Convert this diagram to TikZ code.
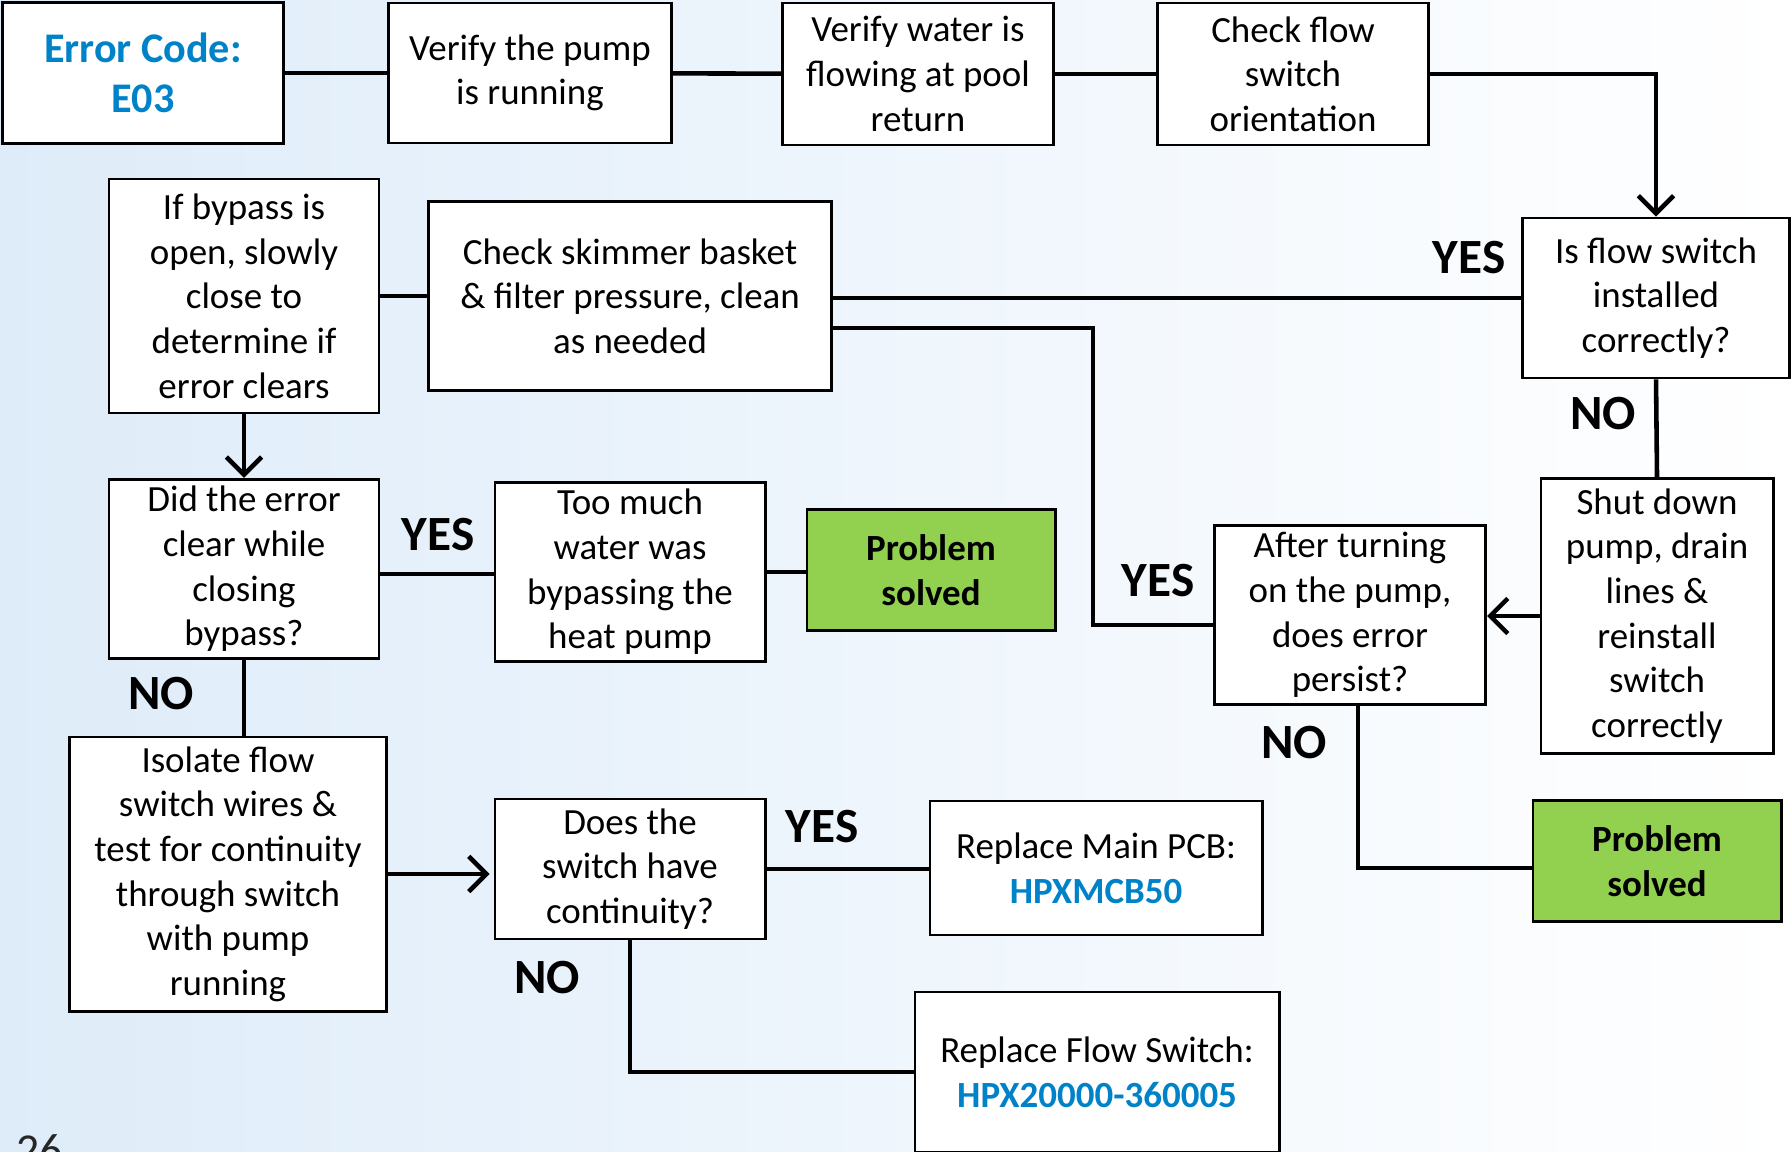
\documentclass[tikz,border=0pt]{standalone}
\usepackage{fontspec}
\setmainfont{Carlito}
\usetikzlibrary{arrows.meta,positioning,calc}
\definecolor{codeblue}{RGB}{0,130,200}
\definecolor{okgreen}{RGB}{146,208,80}
\definecolor{bgblue}{RGB}{222,236,249}

\begin{document}
\begin{tikzpicture}[x=0.01cm,y=-0.01cm,font=\fontsize{10.5}{12.7}\selectfont,
  >={Straight Barb[length=5pt,width=10pt]},
  box/.style={draw,line width=0.8pt,fill=white,align=center,inner sep=2pt},
  okbox/.style={box,fill=okgreen,font=\fontsize{10.5}{12.7}\selectfont\bfseries},
  lbl/.style={font=\fontsize{14}{16}\selectfont\bfseries},
  link/.style={line width=1.3pt}]
  \useasboundingbox (0,0) rectangle (1792,1151);
  \shade[left color=bgblue,right color=white] (0,0) rectangle (1792,1151);

  % top row
  \node[box,minimum width=2.81cm,minimum height=1.41cm,text=codeblue,
    font=\fontsize{12}{14.2}\selectfont\bfseries] (err) at (143,73) {Error Code:\\E03};
  \node[box,minimum width=2.83cm,minimum height=1.40cm] (pump) at (530,73) {Verify the pump\\is running};
  \node[box,minimum width=2.71cm,minimum height=1.42cm] (water) at (918,74) {Verify water is\\flowing at pool\\return};
  \node[box,minimum width=2.71cm,minimum height=1.42cm] (orient) at (1293,74) {Check flow\\switch\\orientation};

  % second row
  \node[box,minimum width=2.67cm,minimum height=1.60cm] (isflow) at (1656,298) {Is flow switch\\installed\\correctly?};
  \node[box,minimum width=4.02cm,minimum height=1.89cm] (skim) at (630,296) {Check skimmer basket\\\& filter pressure, clean\\as needed};
  \node[box,minimum width=2.70cm,minimum height=2.34cm] (bypass) at (244,296) {If bypass is\\open, slowly\\close to\\determine if\\error clears};

  % third row
  \node[box,minimum width=2.70cm,minimum height=1.77cm] (cleared) at (244,569) {Did the error\\clear while\\closing\\bypass?};
  \node[box,minimum width=2.70cm,minimum height=1.77cm] (toomuch) at (630,572) {Too much\\water was\\bypassing the\\heat pump};
  \node[okbox,minimum width=2.48cm,minimum height=1.21cm] (solvedA) at (931,570) {Problem\\solved};
  \node[box,minimum width=2.71cm,minimum height=1.77cm] (persist) at (1350,615) {After turning\\on the pump,\\does error\\persist?};
  \node[box,minimum width=2.32cm,minimum height=2.75cm] (reinst) at (1657,616) {Shut down\\pump, drain\\lines \&\\reinstall\\switch\\correctly};
  \node[okbox,minimum width=2.48cm,minimum height=1.21cm] (solvedB) at (1657,861) {Problem\\solved};

  % bottom rows
  \node[box,minimum width=3.17cm,minimum height=2.74cm] (isolate) at (228,874) {Isolate flow\\switch wires \&\\test for continuity\\through switch\\with pump\\running};
  \node[box,minimum width=2.70cm,minimum height=1.40cm] (contin) at (630,869) {Does the\\switch have\\continuity?};
  \node[box,minimum width=3.32cm,minimum height=1.34cm] (pcb) at (1096,868) {Replace Main PCB:\\\textcolor{codeblue}{\bfseries HPXMCB50}};
  \node[box,minimum width=3.64cm,minimum height=1.60cm] (fsw) at (1097,1072) {Replace Flow Switch:\\\textcolor{codeblue}{\bfseries HPX20000-360005}};

  \node[anchor=north west,inner sep=0,text=black!85,
    font=\fontsize{13}{15}\selectfont] (page) at (16,1134) {26};

  % connectors
  \draw[link] (err) -- (pump);
  \draw[link] (pump) -- (water);
  \draw[link] (water) -- (orient);
  \draw[link,->] (orient.east) -| (isflow.north);
  \draw[link] (isflow.west) -- (isflow.west -| skim.east);
  \draw[link] (bypass.east) -- (bypass.east -| skim.west);
  \draw[link,->] (bypass.south) -- (cleared.north);
  \draw[link] ([yshift=-0.05cm]cleared.east) -- ([yshift=-0.05cm]cleared.east -| toomuch.west);
  \draw[link] (toomuch.east) -- (toomuch.east -| solvedA.west);
  \draw[link] (cleared.south) -- (cleared.south |- isolate.north);
  \draw[link,->] (isolate.east) -- ([xshift=-0.04cm]isolate.east -| contin.west);
  \draw[link] (contin.east) -- (contin.east -| pcb.west);
  \draw[link] (contin.south) |- (fsw.west);
  \draw[link] (isflow.south) -- (reinst.north);
  \draw[link,->] (reinst.west) -- (reinst.west -| persist.east);
  \draw[link] ([yshift=-0.32cm]skim.east) -| ([xshift=-1.2cm,yshift=-0.1cm]persist.west)
    -- ([yshift=-0.1cm]persist.west);
  \draw[link] ([xshift=0.08cm]persist.south) |- ([yshift=-0.07cm]solvedB.west);

  % answers
  \node[lbl] (yesA) at (1469,258) {YES};
  \node[lbl] (noA) at (1603,414) {NO};
  \node[lbl] (yesB) at (438,535) {YES};
  \node[lbl] (noB) at (161,694) {NO};
  \node[lbl] (yesC) at (822,827) {YES};
  \node[lbl] (noC) at (547,978) {NO};
  \node[lbl] (yesD) at (1158,581) {YES};
  \node[lbl] (noD) at (1294,743) {NO};
\end{tikzpicture}
\end{document}
